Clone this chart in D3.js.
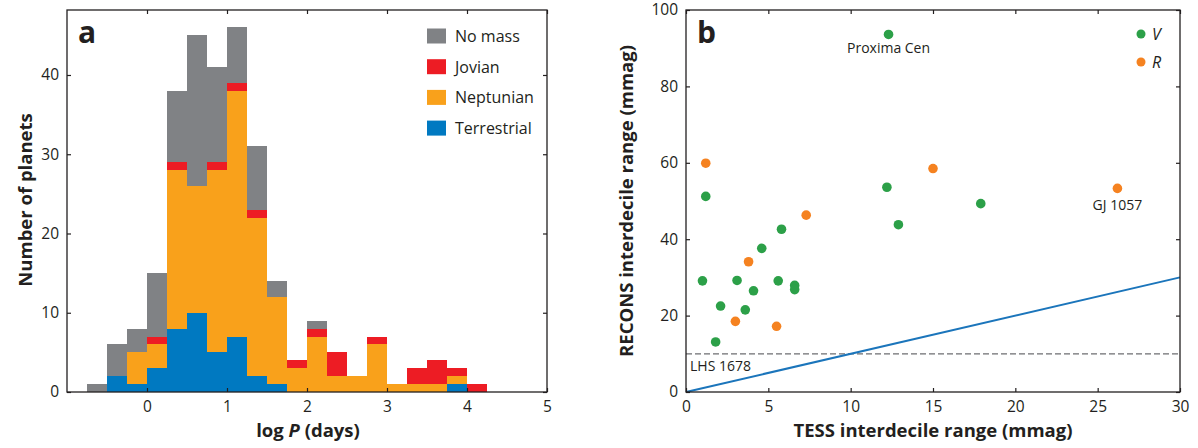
<!DOCTYPE html>
<html>
<head>
<meta charset="utf-8">
<script src="https://cdn.jsdelivr.net/npm/d3@7"></script>
<style>
  html, body { margin: 0; padding: 0; background: #fff; }
  svg text { font-family: "Open Sans", "Noto Sans", sans-serif; fill: #231f20; }
</style>
</head>
<body>
<svg id="chart" width="1198" height="448"></svg>
<script>
// ---------- Panel a data ----------
const binStart = [-0.75,-0.5,-0.25,0,0.25,0.5,0.75,1,1.25,1.5,1.75,2,2.25,2.5,2.75,3,3.25,3.5,3.75,4];
const binWidth = 0.25;
const terrestrial = [0,2,1,3,8,10,5,7,2,1,0,0,0,0,0,0,0,0,1,0];
const neptunian   = [0,0,4,3,20,16,23,31,20,11,3,7,2,2,6,1,1,1,1,0];
const jovian      = [0,0,0,1,1,0,1,1,1,0,1,1,3,0,1,0,2,3,1,1];
const noMass      = [1,4,3,8,9,19,12,7,8,2,0,1,0,0,0,0,0,0,0,0];
const massKeys = ["Terrestrial","Neptunian","Jovian","No mass"];
const massColors = ["#0079c1","#f9a11b","#ed1c24","#808285"];
const legendOrder = ["No mass","Jovian","Neptunian","Terrestrial"];
const xTicksA = [0,1,2,3,4,5];
const yTicksA = [0,10,20,30,40];

// ---------- Panel b data ----------
const vTess   = [1.2,5.8,4.6,1.0,3.1,5.6,6.6,6.6,4.1,2.1,3.6,1.8,12.2,12.9,12.3,17.9];
const vRecons = [51.2,42.6,37.6,29.1,29.2,29.1,27.9,26.8,26.5,22.5,21.5,13.1,53.6,43.8,93.6,49.3];
const rTess   = [1.2,15.0,26.2,7.3,3.8,3.0,5.5];
const rRecons = [59.9,58.5,53.3,46.3,34.1,18.5,17.2];
const bandNames = ["V","R"];
const bandColors = ["#2ca048","#f58220"];
const annotations = [
  {text:"Proxima Cen", x:12.3, y:93.6, dx:0, dy:19, anchor:"middle"},
  {text:"GJ 1057", x:26.2, y:53.3, dx:0, dy:22, anchor:"middle"},
  {text:"LHS 1678", x:0, y:10, dx:4, dy:17, anchor:"start"}
];
const xTicksB = [0,5,10,15,20,25,30];
const yTicksB = [0,20,40,60,80,100];
const thresholdY = 10;
const oneToOne = [[0,0],[30,30]];

const svg = d3.select("#chart");
const ink = "#231f20";

function frameAxes(g, x, y, xt, yt) {
  const [x0,x1] = x.range(), [y0,y1] = y.range();
  const b = g.append("g").attr("transform",`translate(0,${y0})`)
    .call(d3.axisBottom(x).tickValues(xt).tickSize(-4).tickPadding(9).tickFormat(d3.format("d")));
  const t = g.append("g").attr("transform",`translate(0,${y1})`)
    .call(d3.axisTop(x).tickValues(xt).tickSize(-4).tickFormat(""));
  const l = g.append("g").attr("transform",`translate(${x0},0)`)
    .call(d3.axisLeft(y).tickValues(yt).tickSize(-4).tickPadding(8).tickFormat(d3.format("d")));
  const r = g.append("g").attr("transform",`translate(${x1},0)`)
    .call(d3.axisRight(y).tickValues(yt).tickSize(-4).tickFormat(""));
  [b,t,l,r].forEach(a => {
    a.select(".domain").remove();
    a.selectAll("line").attr("stroke",ink).attr("stroke-width",1.2);
    a.selectAll("text").style("font-size","15.5px").attr("fill",ink);
  });
  g.append("rect").attr("x",x0).attr("y",y1).attr("width",x1-x0).attr("height",y0-y1)
    .attr("fill","none").attr("stroke",ink).attr("stroke-width",1.3);
}

// ---------- Panel a ----------
const xA = d3.scaleLinear().domain([-1,5]).range([67,547]);
const yA = d3.scaleLinear().domain([0,48.2]).range([392,10]);
const gA = svg.append("g");
const rows = binStart.map((s,i)=>({start:s, "Terrestrial":terrestrial[i], "Neptunian":neptunian[i], "Jovian":jovian[i], "No mass":noMass[i]}));
const stack = d3.stack().keys(massKeys)(rows);
const colorA = d3.scaleOrdinal().domain(massKeys).range(massColors);
gA.append("g").selectAll("g").data(stack).join("g").attr("fill", d=>colorA(d.key))
  .selectAll("rect").data(d=>d.filter(s=>s[1]>s[0])).join("rect")
  .attr("x", d=>xA(d.data.start))
  .attr("width", d=>xA(d.data.start+binWidth)-xA(d.data.start))
  .attr("y", d=>yA(d[1]))
  .attr("height", d=>yA(d[0])-yA(d[1]))
  .attr("shape-rendering","crispEdges");
frameAxes(gA, xA, yA, xTicksA, yTicksA);
gA.append("text").attr("x",78).attr("y",43).style("font-size","30px").style("font-weight","bold").text("a");
const legA = gA.append("g").selectAll("g").data(legendOrder).join("g")
  .attr("transform",(d,i)=>`translate(427,${36+i*30.7})`);
legA.append("rect").attr("x",0).attr("y",-7.5).attr("width",19).attr("height",15).attr("fill",d=>colorA(d));
legA.append("text").attr("x",28).attr("y",6).style("font-size","16px").text(d=>d);
gA.append("text").attr("x",308).attr("y",437).attr("text-anchor","middle")
  .style("font-size","18.5px").style("font-weight","bold")
  .call(t=>{ t.append("tspan").text("log "); t.append("tspan").style("font-style","italic").text("P"); t.append("tspan").text(" (days)"); });
gA.append("text").attr("transform","translate(32,200) rotate(-90)").attr("text-anchor","middle")
  .style("font-size","18.5px").style("font-weight","bold").text("Number of planets");

// ---------- Panel b ----------
const xB = d3.scaleLinear().domain([0,30]).range([686,1180]);
const yB = d3.scaleLinear().domain([0,100]).range([392,10]);
const gB = svg.append("g");
gB.append("line").attr("x1",xB(0)).attr("x2",xB(30)).attr("y1",yB(thresholdY)).attr("y2",yB(thresholdY))
  .attr("stroke","#6d6e71").attr("stroke-width",1.3).attr("stroke-dasharray","6,3");
gB.append("path").datum(oneToOne).attr("d", d3.line().x(d=>xB(d[0])).y(d=>yB(d[1])))
  .attr("stroke","#1b75bb").attr("stroke-width",2).attr("fill","none");
const ptsV = vTess.map((t,i)=>({x:t,y:vRecons[i],band:"V"}));
const ptsR = rTess.map((t,i)=>({x:t,y:rRecons[i],band:"R"}));
const colorB = d3.scaleOrdinal().domain(bandNames).range(bandColors);
gB.append("g").selectAll("circle").data(ptsV.concat(ptsR)).join("circle")
  .attr("cx",d=>xB(d.x)).attr("cy",d=>yB(d.y)).attr("r",4.8).attr("fill",d=>colorB(d.band));
frameAxes(gB, xB, yB, xTicksB, yTicksB);
gB.selectAll(".ann").data(annotations).join("text").attr("class","ann")
  .attr("x",d=>xB(d.x)+d.dx).attr("y",d=>yB(d.y)+d.dy).attr("text-anchor",d=>d.anchor)
  .style("font-size","14px").text(d=>d.text);
gB.append("text").attr("x",697).attr("y",43).style("font-size","30px").style("font-weight","bold").text("b");
const legB = gB.append("g").selectAll("g").data(bandNames).join("g")
  .attr("transform",(d,i)=>`translate(1141,${34+i*28})`);
legB.append("circle").attr("r",4.5).attr("fill",d=>colorB(d));
legB.append("text").attr("x",11).attr("y",6).style("font-size","16px").style("font-style","italic").text(d=>d);
gB.append("text").attr("x",xB(15)+0).attr("y",437).attr("text-anchor","middle")
  .style("font-size","18.5px").style("font-weight","bold").text("TESS interdecile range (mmag)");
gB.append("text").attr("transform",`translate(633,${yB(50)}) rotate(-90)`).attr("text-anchor","middle")
  .style("font-size","18.5px").style("font-weight","bold").text("RECONS interdecile range (mmag)");
</script>
</body>
</html>
